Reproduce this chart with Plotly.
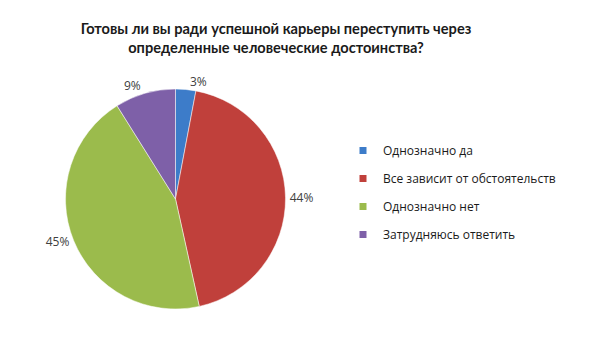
import plotly.graph_objects as go

labels = ["Однозначно да", "Все зависит от обстоятельств", "Однозначно нет", "Затрудняюсь ответить"]
values = [3, 44, 45, 9]
text_labels = ["3%", "44%", "45%", "9%"]
colors = ["#3D7CC9", "#C0403B", "#9BBB4C", "#7E60A8"]

W, H = 600, 354
cx, cy, r = 175.5, 199, 110
FONT = "Open Sans, Arial"

fig = go.Figure()
fig.add_trace(go.Pie(
    labels=labels,
    values=values,
    text=text_labels,
    textinfo="text",
    textposition="outside",
    sort=False,
    direction="clockwise",
    rotation=0,
    marker=dict(colors=colors, line=dict(color="white", width=0.5)),
    textfont=dict(family=FONT, size=12, color="#404040"),
    domain=dict(x=[(cx - r) / W, (cx + r) / W], y=[1 - (cy + r) / H, 1 - (cy - r) / H]),
    hoverinfo="label+percent",
    showlegend=False,
))

# legend entries (one per category, so that rows can be spaced like the original)
for lab, col in zip(labels, colors):
    fig.add_trace(go.Scatter(
        x=[None], y=[None], mode="markers", name=lab,
        marker=dict(symbol="square", size=7, color=col),
        legendgroup=lab, showlegend=True, hoverinfo="skip",
    ))

fig.update_layout(
    width=W, height=H,
    margin=dict(l=0, r=0, t=0, b=0),
    paper_bgcolor="white",
    plot_bgcolor="white",
    xaxis=dict(visible=False),
    yaxis=dict(visible=False),
    title=dict(
        text="<b>Готовы ли вы ради успешной карьеры переступить через<br>определенные человеческие достоинства?</b>",
        x=276 / W, xanchor="center", y=1 - 34 / H, yanchor="top",
        font=dict(family="Lato, Open Sans", size=14.6, color="#1a1a1a"),
    ),
    legend=dict(
        x=343 / W, y=1 - 136 / H, xanchor="left", yanchor="top",
        font=dict(family=FONT, size=12, color="#1a1a1a"),
        itemwidth=30,
        tracegroupgap=9,
    ),
    showlegend=True,
)

fig.write_html("out.html")
